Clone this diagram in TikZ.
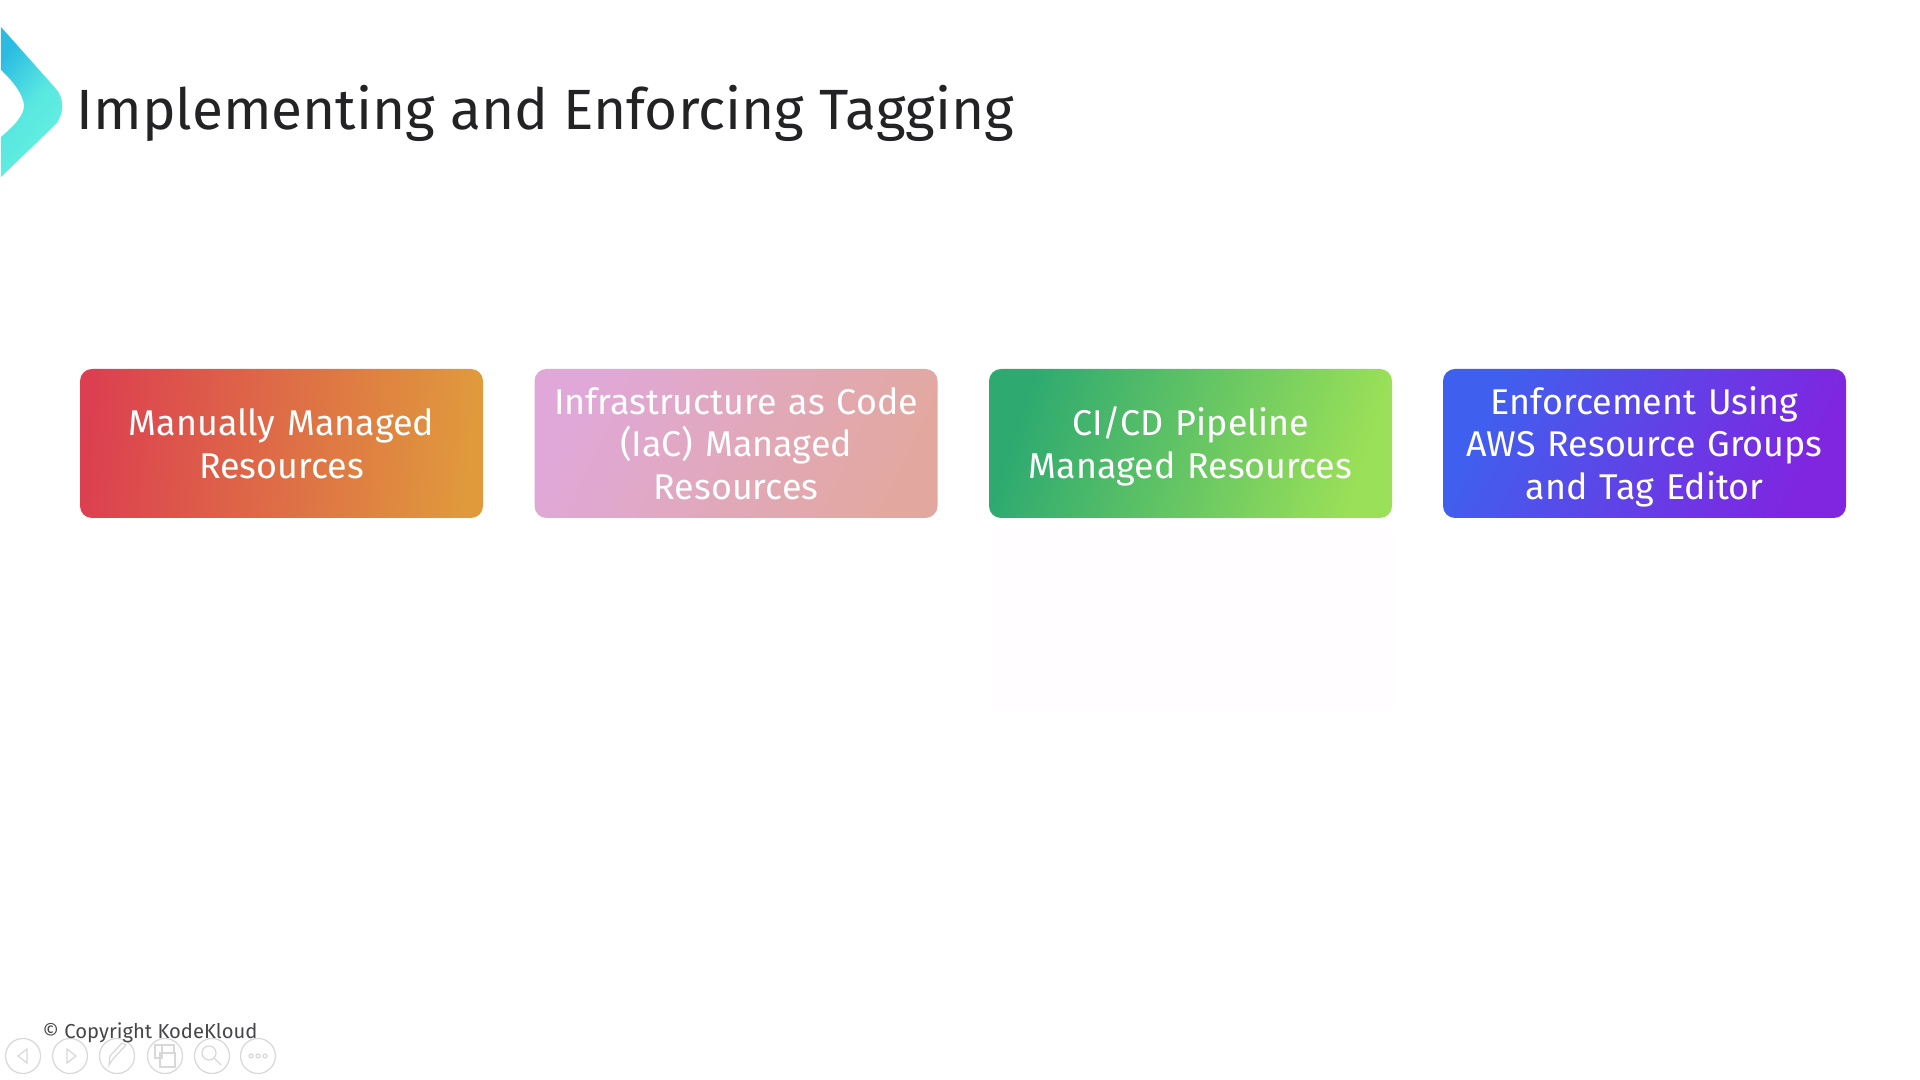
\documentclass[tikz,border=0pt]{standalone}
\usepackage{xcolor}
\usepackage{fontspec}
\setmainfont{Fira Sans}
\usepackage{tikz}

\definecolor{titlegray}{HTML}{232326}
\definecolor{copygray}{HTML}{46464A}
\definecolor{ctrlgray}{HTML}{D8D8D8}
\definecolor{chevA}{HTML}{2CBCE2}
\definecolor{chevB}{HTML}{64F2E0}
\definecolor{panelwhite}{HTML}{FFFDFF}

\lineskiplimit=-5pt

\tikzset{
    resbox/.style={rounded corners=0.12cm, minimum width=4.03cm, minimum height=1.49cm,
        text width=3.9cm, align=center, inner sep=0pt, text=white,
        font=\fontsize{10.2}{12.2}\selectfont,
        execute at begin node={\rule{0pt}{11.3pt}}, execute at end node=\strut},
    ctrl/.style={circle, draw=ctrlgray, line width=0.35pt, minimum size=0.35cm, inner sep=0pt},
    icon/.style={draw=ctrlgray, line width=0.35pt}
}

\begin{document}
\begin{tikzpicture}
    \useasboundingbox (0,0) rectangle (19.2,10.8);
    % logo
    \shade[left color=chevA, right color=chevB, middle color=chevB!80!chevA, shading angle=50]
        (0.01,10.53) -- (0.57,9.9) .. controls (0.64,9.8) and (0.64,9.68) .. (0.57,9.57)
        -- (0.01,9.03) -- (0.01,9.43) .. controls (0.12,9.52) and (0.24,9.64) .. (0.24,9.74)
        .. controls (0.24,9.85) and (0.12,10.0) .. (0.01,10.1) -- cycle;
    \node[anchor=base west, inner sep=0pt, text=titlegray, font=\fontsize{16.15}{19}\selectfont] (title) at (0.76,9.50) {Implementing and Enforcing Tagging};

    % the four boxes
    \node[resbox, left color={rgb,255:red,220;green,64;blue,80}, right color={rgb,255:red,224;green,154;blue,60}, shading angle=85] (manual) at (2.815,6.365) {Manually Managed\\Resources};
    \node[resbox, left color={rgb,255:red,224;green,168;blue,216}, middle color={rgb,255:red,224;green,168;blue,210}, right color={rgb,255:red,226;green,168;blue,160}, shading angle=65] (iac) at (7.36,6.365) {Infrastructure as Code\\(IaC) Managed\\Resources};
    \node[resbox, left color={rgb,255:red,46;green,170;blue,112}, middle color={rgb,255:red,130;green,210;blue,108}, right color={rgb,255:red,154;green,224;blue,88}, shading angle=72] (cicd) at (11.905,6.365) {CI/CD Pipeline\\Managed Resources};
    \node[resbox, left color={rgb,255:red,63;green,96;blue,238}, right color={rgb,255:red,128;green,37;blue,224}, shading angle=65] (enforce) at (16.445,6.365) {Enforcement Using\\AWS Resource Groups\\and Tag Editor};

    % faint panel under the third box
    \fill[rounded corners=0.1cm, panelwhite] (9.91,5.53) rectangle (13.93,3.68);

    % player controls
    \node[ctrl] (prev) at (0.23,0.24) {};
    \node[ctrl] (next) at (0.70,0.24) {};
    \node[ctrl] (pen) at (1.17,0.24) {};
    \node[ctrl] (grid) at (1.65,0.24) {};
    \node[ctrl] (zoom) at (2.12,0.24) {};
    \node[ctrl] (more) at (2.58,0.24) {};
    \draw[icon] (0.27,0.31) -- (0.18,0.24) -- (0.27,0.17) -- cycle;
    \draw[icon] (0.67,0.31) -- (0.76,0.24) -- (0.67,0.17) -- cycle;
    \draw[icon] (1.09,0.15) -- (1.13,0.21) -- (1.26,0.35) -- (1.22,0.37) -- (1.10,0.24) -- cycle;
    \draw[icon] (1.55,0.22) rectangle (1.62,0.35);
    \draw[icon] (1.62,0.27) rectangle (1.74,0.35);
    \draw[icon] (1.60,0.13) rectangle (1.75,0.27);
    \draw[icon] (2.09,0.27) circle (0.07);
    \draw[icon] (2.14,0.22) -- (2.21,0.15);
    \draw[icon] (2.51,0.24) circle (0.02) (2.58,0.24) circle (0.02) (2.65,0.24) circle (0.02);

    \node[anchor=base west, inner sep=0pt, text=copygray, font=\fontsize{5.75}{7}\selectfont] (copy) at (0.42,0.41) {© Copyright KodeKloud};
\end{tikzpicture}
\end{document}
